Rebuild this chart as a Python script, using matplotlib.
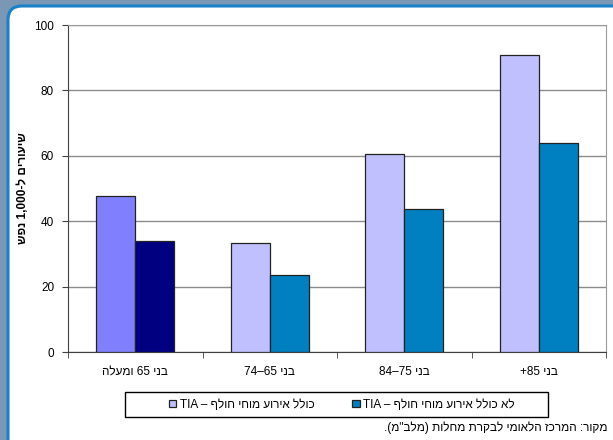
"""
שיעורי שבץ לפי גיל - עמודות
"""

import re
import matplotlib
matplotlib.use("Agg")
import matplotlib.pyplot as plt
from matplotlib.patches import FancyBboxPatch, Rectangle, Patch
from matplotlib.transforms import IdentityTransform
import numpy as np

categories = ["בני 65 ומעלה", "בני 65–74", "בני 75–84", "בני 85+"]
with_tia = [47.6, 33.2, 60.7, 90.9]
without_tia = [33.9, 23.5, 43.6, 64.0]
series_names = ["כולל אירוע מוחי חולף – TIA", "לא כולל אירוע מוחי חולף – TIA"]
ylabel = "שיעורים ל-1,000 נפש"
source = "מקור: המרכז הלאומי לבקרת מחלות (מלב\"מ)."
yticks = [0, 20, 40, 60, 80, 100]


def visual(s):
    # matplotlib has no bidi: put the hebrew in display order
    mirror = {'(': ')', ')': '('}
    tokens = re.findall(r'[0-9A-Za-z]+(?:[.,][0-9A-Za-z]+)*|.', s)
    out = []
    for t in reversed(tokens):
        out.append(t if re.match(r'[0-9A-Za-z]', t) else mirror.get(t, t))
    return ''.join(out)


plt.rcParams['font.family'] = ['Liberation Sans', 'DejaVu Sans']

fig = plt.figure(figsize=(6.13, 4.40), dpi=100)
fig.patch.set_facecolor('#7a97b5')

# white rounded panel
panel = FancyBboxPatch((8, -30), 660, 464, boxstyle="round,pad=0,rounding_size=14",
                       transform=IdentityTransform(), facecolor='white',
                       edgecolor='#1a80c8', linewidth=2.2, zorder=-2)
fig.patches.append(panel)

ax = fig.add_axes([68 / 613, 1 - 352 / 440, 538 / 613, 327 / 440])
ax.set_zorder(2)
x = np.arange(len(categories))
w = 0.29
light = ['#8080ff'] + ['#c0c0ff'] * 3
dark = ['#000080'] + ['#0080c0'] * 3
ax.bar(x - w / 2, with_tia, w, color=light, edgecolor='#222222', linewidth=0.9, zorder=3)
ax.bar(x + w / 2, without_tia, w, color=dark, edgecolor='#222222', linewidth=0.9, zorder=3)

ax.set_xlim(-0.5, 3.5)
ax.set_ylim(0, 100)
ax.set_yticks(yticks)
ax.set_yticklabels([str(v) for v in yticks], fontsize=8.5)
ax.yaxis.grid(True, color='#8c8c8c', linewidth=1, zorder=0)
ax.set_axisbelow(True)
ax.set_xticks(x)
ax.set_xticklabels([visual(c) for c in categories], fontsize=8.5)
ax.set_xticks(np.arange(-0.5, 4, 1), minor=True)
ax.tick_params(axis='x', which='major', length=0, pad=10)
ax.tick_params(axis='x', which='minor', length=4, direction='out', color='#404040')
ax.tick_params(axis='y', length=4, direction='out', color='#404040', pad=6)
for s in ['left', 'bottom']:
    ax.spines[s].set_color('#404040')
for s in ['top', 'right']:
    ax.spines[s].set_color('#9a9a9a')
ax.set_ylabel(visual(ylabel), fontsize=8.5, fontweight='bold')
ax.yaxis.set_label_coords(-39 / 538, 0.5)

# legend
fig.patches.append(Rectangle((125, 440 - 417), 423, 25, transform=IdentityTransform(),
                             facecolor='white', edgecolor='black', linewidth=1, zorder=1))
handles = [Patch(facecolor='#c0c0ff', edgecolor='#222222', linewidth=0.9),
           Patch(facecolor='#0080c0', edgecolor='#222222', linewidth=0.9)]
fig.legend(handles, [visual(n) for n in series_names], ncol=2, frameon=False,
           loc='center', bbox_to_anchor=(342 / 613, 1 - 404.5 / 440), fontsize=8.5,
           handlelength=0.6, handleheight=0.6, handletextpad=0.3, columnspacing=3.2)

fig.text(608 / 613, 1 - 428 / 440, visual(source), ha='right', va='center', fontsize=8.5)

plt.savefig("out.png", dpi=100, facecolor=fig.get_facecolor())
